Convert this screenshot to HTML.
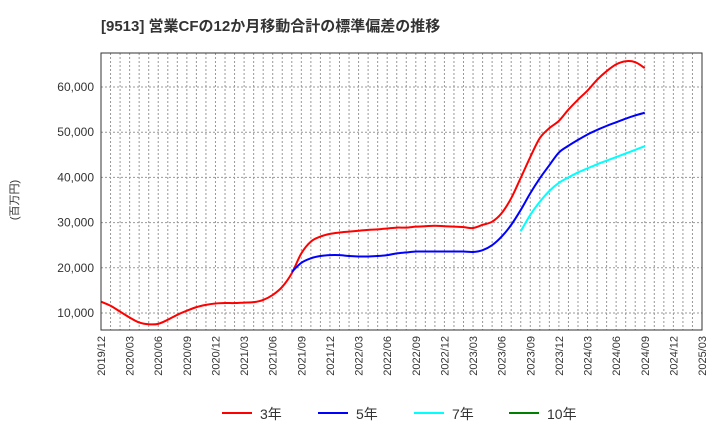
<!DOCTYPE html>
<html><head><meta charset="utf-8"><style>
body{margin:0;background:#fff;font-family:"Liberation Sans","Noto Sans CJK JP",sans-serif}
</style></head><body>
<svg width="720" height="440" xmlns="http://www.w3.org/2000/svg" font-family="Liberation Sans, Noto Sans CJK JP, sans-serif">
<text x="101" y="31" font-size="15" font-weight="bold" fill="#333">[9513]  営業CFの12か月移動合計の標準偏差の推移</text>
<text transform="translate(18,200) rotate(-90)" text-anchor="middle" font-size="11" fill="#333">(百万円)</text>
<g id="grid"></g><g id="series"></g><g id="axes"></g><g id="legend"></g>
</svg>
<script>
const xLabels=["2019/12","2020/03","2020/06","2020/09","2020/12","2021/03","2021/06","2021/09","2021/12","2022/03","2022/06","2022/09","2022/12","2023/03","2023/06","2023/09","2023/12","2024/03","2024/06","2024/09","2024/12","2025/03"];
const yTicks=[10000,20000,30000,40000,50000,60000];
const s3=[12500,11600,10300,9000,7900,7500,7600,8500,9600,10500,11300,11800,12100,12200,12200,12300,12400,12900,14000,15800,18800,23200,25800,26900,27500,27800,28000,28200,28400,28500,28700,28900,28900,29100,29200,29300,29200,29100,29000,28800,29500,30200,32100,35400,39900,44500,48700,50900,52500,55000,57200,59200,61600,63500,65000,65700,65500,64200];
const s5Start=20;
const s5=[19100,21100,22100,22600,22800,22800,22600,22500,22500,22600,22800,23200,23400,23600,23600,23600,23600,23600,23600,23500,23900,25000,26900,29500,32800,36500,39800,42700,45500,47000,48300,49500,50500,51400,52200,53000,53700,54300];
const s7Start=44;
const s7=[28100,31700,34600,37000,38800,40000,41100,42000,42900,43700,44500,45300,46100,46900];
const L=101,R=702,T=53,B=330;
const xs=i=>L+i*(R-L)/63;
const ys=v=>313-(v-10000)*(313-87)/50000;
const NS="http://www.w3.org/2000/svg";
function mk(tag,attrs,parent){const e=document.createElementNS(NS,tag);for(const k in attrs)e.setAttribute(k,attrs[k]);parent.appendChild(e);return e;}
const grid=document.getElementById('grid'),axes=document.getElementById('axes'),ser=document.getElementById('series'),leg=document.getElementById('legend');
for(let i=1;i<63;i++){const l=mk('line',{x1:xs(i),x2:xs(i),y1:T,y2:B,stroke:'#999','stroke-dasharray':'2,2','stroke-width':1},grid);

}
yTicks.forEach(v=>{const l=mk('line',{x1:L,x2:R,y1:ys(v),y2:ys(v),stroke:'#999','stroke-dasharray':'2,2','stroke-width':1},grid);


const t=mk('text',{x:L-7,y:ys(v)+4,'text-anchor':'end','font-size':12,fill:'#333'},axes);t.textContent=v.toLocaleString('en-US');

});
const fr=mk('rect',{x:L,y:T,width:R-L,height:B-T,fill:'none',stroke:'#333','stroke-width':1},axes);


xLabels.forEach((s,k)=>{const x=xs(k*3);const t=mk('text',{transform:`translate(${x+4},${B+6}) rotate(-90)`,'text-anchor':'end','font-size':11,fill:'#333'},axes);t.textContent=s;

});
function path(arr,start){const p=arr.map((v,i)=>[xs(start+i),ys(v)]);let d=`M${p[0][0]},${p[0][1]}`;
for(let i=0;i<p.length-1;i++){const p0=p[Math.max(i-1,0)],p1=p[i],p2=p[i+1],p3=p[Math.min(i+2,p.length-1)];
d+=` C${p1[0]+(p2[0]-p0[0])/6},${p1[1]+(p2[1]-p0[1])/6} ${p2[0]-(p3[0]-p1[0])/6},${p2[1]-(p3[1]-p1[1])/6} ${p2[0]},${p2[1]}`;}return d;}
const series=[[s3,0,'#ff0000','series-3yr'],[s5,s5Start,'#0000ff','series-5yr'],[s7,s7Start,'#00ffff','series-7yr']];
series.forEach(([a,st,c,n])=>{const e=mk('path',{d:path(a,st),fill:'none',stroke:c,'stroke-width':2},ser);

});
const items=[['3年','#ff0000',222],['5年','#0000ff',318],['7年','#00ffff',414],['10年','#008000',509]];
items.forEach(([t,c,x])=>{const g=mk('g',{},leg);


mk('line',{x1:x,x2:x+30,y1:413,y2:413,stroke:c,'stroke-width':2},g);
const tx=mk('text',{x:x+38,y:419,'font-size':14,fill:'#333'},g);tx.textContent=t;});
</script>
</body></html>
